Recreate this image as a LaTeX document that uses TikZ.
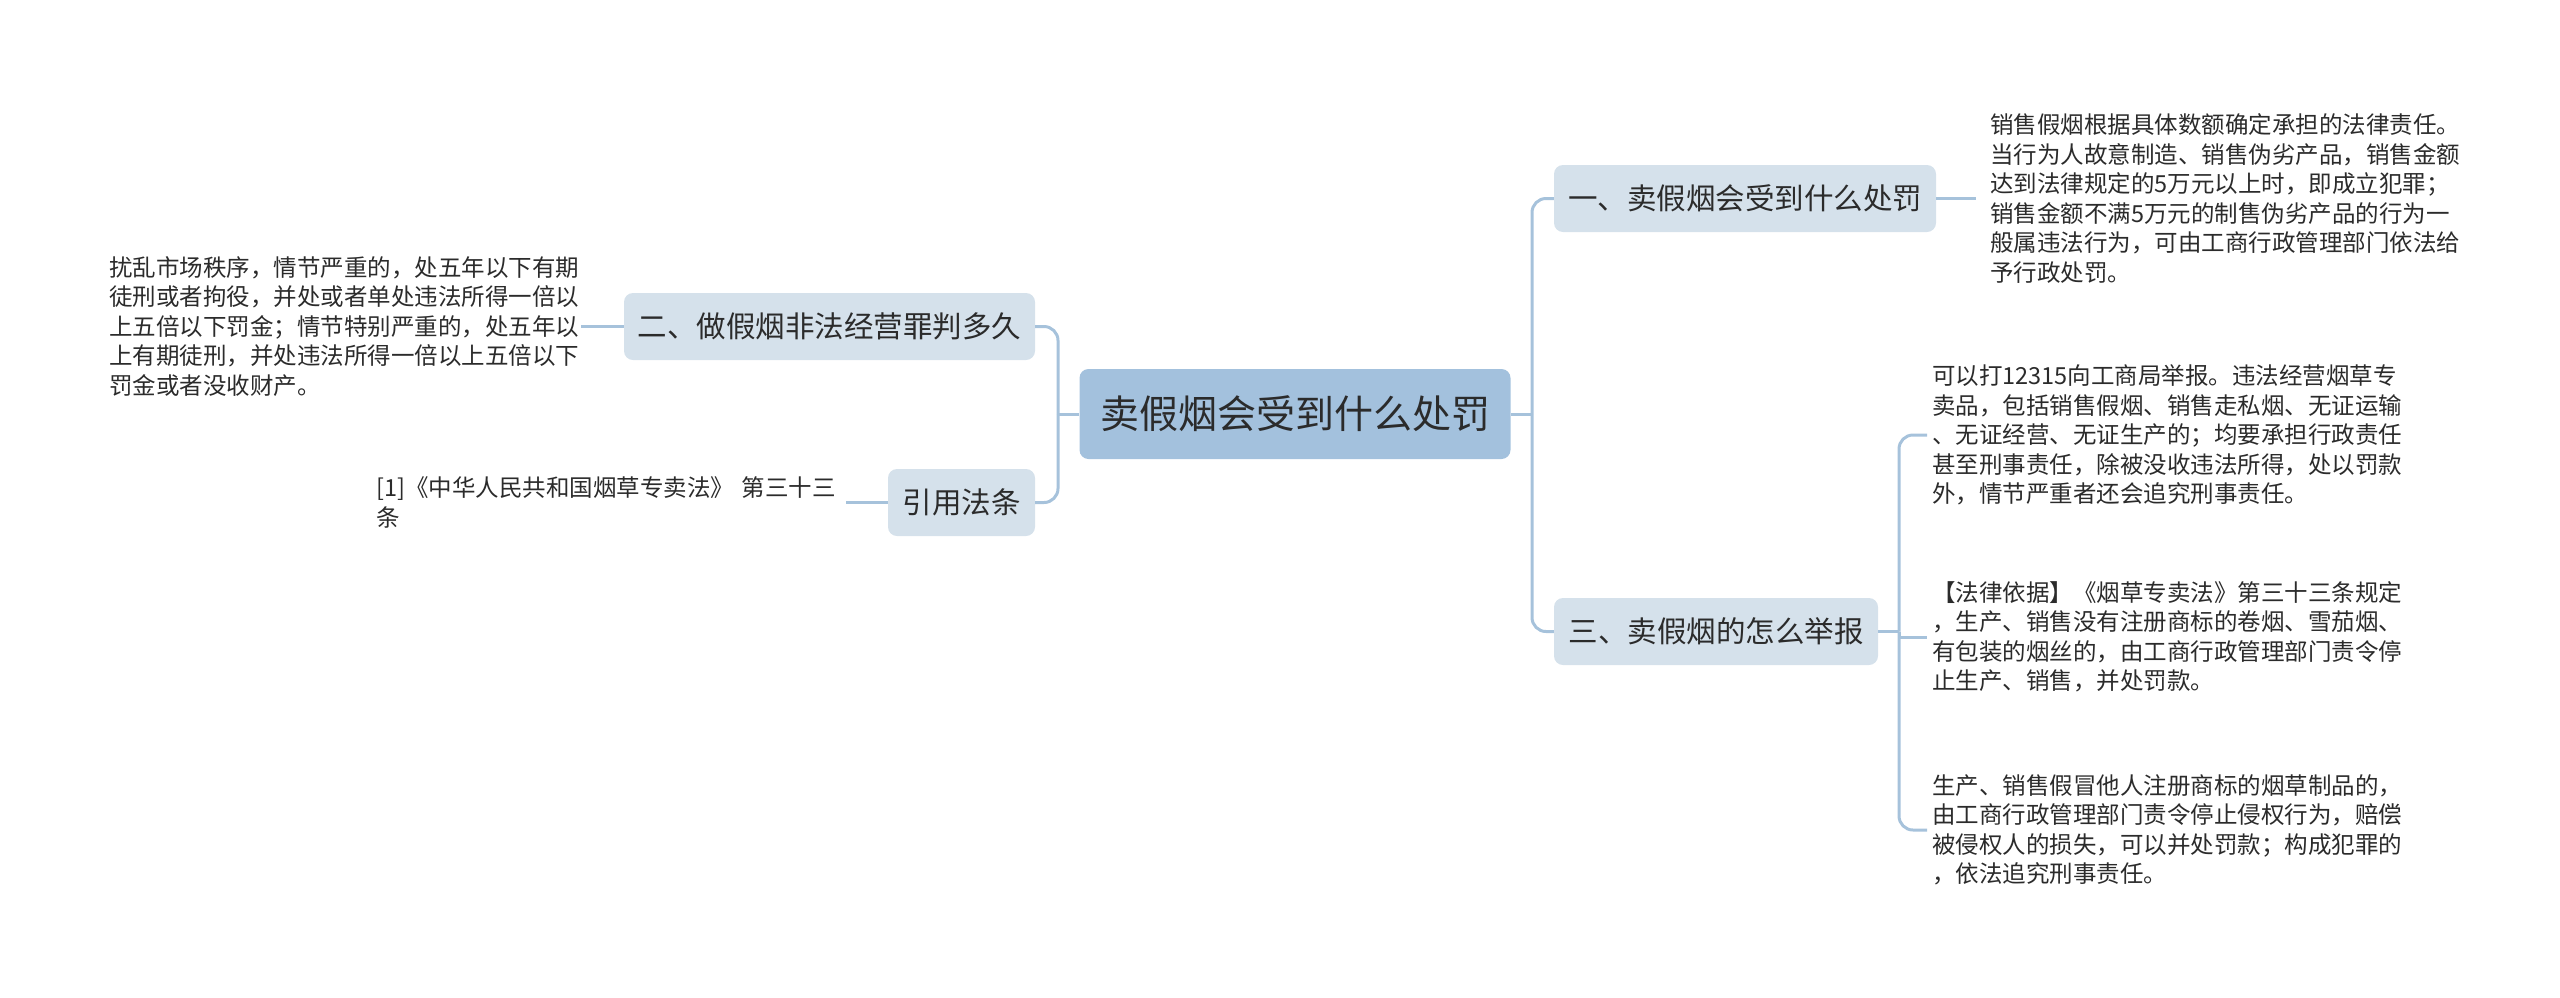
\documentclass[tikz,border=0pt]{standalone}
\usepackage{fontspec}
\setmainfont{Noto Sans CJK SC}
\definecolor{mainfill}{HTML}{A3C1DD}
\definecolor{brfill}{HTML}{D5E1EB}
\definecolor{linec}{HTML}{A6C2DB}
\definecolor{txt}{HTML}{2B2B2B}
\begin{document}
\begin{tikzpicture}[x=1pt,y=-1pt,
  mainbox/.style={fill=mainfill, rounded corners=9pt, minimum width=431pt, minimum height=90pt, inner sep=0pt, text=txt, font=\fontsize{39}{47}\selectfont},
  branchbox/.style={fill=brfill, rounded corners=9pt, minimum height=67pt, inner sep=0pt, text=txt, font=\fontsize{29.5}{36}\selectfont},
  leaf/.style={align=left, inner ysep=0pt, anchor=west, text=txt, font=\fontsize{23.5}{29.5}\selectfont},
  conn/.style={draw=linec, line width=3pt},
  elbow/.style={conn, rounded corners=14pt}]
\useasboundingbox (0,0) rectangle (2560,997);

\node[mainbox] (c) at (1295,414) {卖假烟会受到什么处罚};
\node[branchbox, minimum width=382pt] (b1) at (1745,198.5) {一、卖假烟会受到什么处罚};
\node[branchbox, minimum width=324pt] (b3) at (1716,631.5) {三、卖假烟的怎么举报};
\node[branchbox, minimum width=411pt] (b2) at (829.5,326.5) {二、做假烟非法经营罪判多久};
\node[branchbox, minimum width=147pt] (b4) at (961.5,502.5) {引用法条};

\node[leaf, text width=470pt, inner xsep=14pt] (l1) at (1976,198.5) {销售假烟根据具体数额确定承担的法律责任。\\当行为人故意制造、销售伪劣产品，销售金额\\达到法律规定的5万元以上时，即成立犯罪；\\销售金额不满5万元的制售伪劣产品的行为一\\般属违法行为，可由工商行政管理部门依法给\\予行政处罚。};

\node[leaf, text width=440pt, inner xsep=5pt] (la) at (1927,435) {可以打12315向工商局举报。违法经营烟草专\\卖品，包括销售假烟、销售走私烟、无证运输\\、无证经营、无证生产的；均要承担行政责任\\甚至刑事责任，除被没收违法所得，处以罚款\\外，情节严重者还会追究刑事责任。};
\node[leaf, text width=440pt, inner xsep=5pt] (lb) at (1927,637) {【法律依据】《烟草专卖法》第三十三条规定\\，生产、销售没有注册商标的卷烟、雪茄烟、\\有包装的烟丝的，由工商行政管理部门责令停\\止生产、销售，并处罚款。};
\node[leaf, text width=440pt, inner xsep=5pt] (lc) at (1927,830) {生产、销售假冒他人注册商标的烟草制品的，\\由工商行政管理部门责令停止侵权行为，赔偿\\被侵权人的损失，可以并处罚款；构成犯罪的\\，依法追究刑事责任。};

\node[leaf, text width=470pt, inner xsep=2pt] (l2) at (107,326.5) {扰乱市场秩序，情节严重的，处五年以下有期\\徒刑或者拘役，并处或者单处违法所得一倍以\\上五倍以下罚金；情节特别严重的，处五年以\\上有期徒刑，并处违法所得一倍以上五倍以下\\罚金或者没收财产。};
\node[leaf, text width=468pt, inner xsep=2pt] (l4) at (374,502.5) {[1]《中华人民共和国烟草专卖法》 第三十三\\条};

\coordinate (cr) at (1532,414);
\coordinate (cl) at (1058,414);
\coordinate (r3) at (1899,631.5);

\draw[conn] (c.east) -- (cr);
\draw[elbow] (cr) |- (b1.west);
\draw[elbow] (cr) |- (b3.west);
\draw[conn] (c.west) -- (cl);
\draw[elbow] (cl) |- (b2.east);
\draw[elbow] (cl) |- (b4.east);
\draw[conn] (b1.east) -- (l1.west);
\draw[conn] (b3.east) -- (r3);
\draw[elbow] (r3) |- (la.west);
\draw[conn] (r3) |- (lb.west);
\draw[elbow] (r3) |- (lc.west);
\draw[conn] (l2.east) -- (b2.west);
\draw[conn] (l4.east) -- (b4.west);
\end{tikzpicture}
\end{document}
